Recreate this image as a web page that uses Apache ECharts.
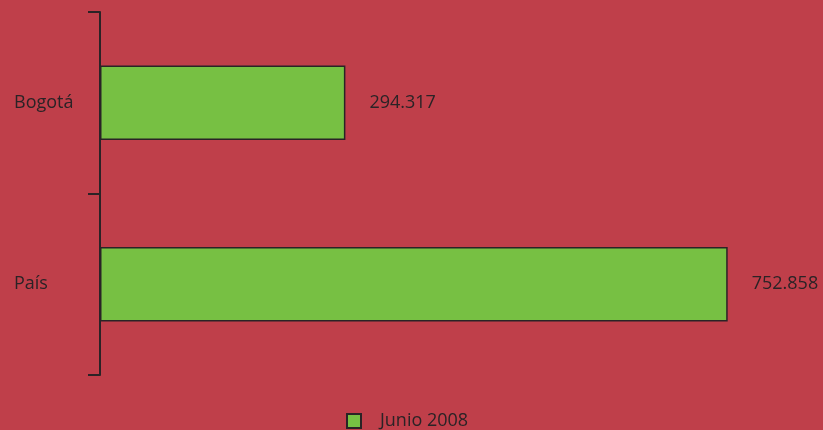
<!DOCTYPE html>
<html>
<head>
<meta charset="utf-8">
<script src="https://cdn.jsdelivr.net/npm/echarts@6/dist/echarts.min.js"></script>
<style>
  html, body { margin: 0; padding: 0; background: #bf3f4a; }
  #chart { width: 823px; height: 430px; }
</style>
</head>
<body>
<div id="chart"></div>
<script>
// categorias y valores
const categories = ['Bogotá', 'País'];
const values = [294317, 752858];
const seriesName = 'Junio 2008';

const chart = echarts.init(document.getElementById('chart'));

// separador de miles con punto
function fmt(v) {
  return String(v).replace(/\B(?=(\d{3})+(?!\d))/g, '.');
}

const option = {
  backgroundColor: '#bf3f4a',
  textStyle: { fontFamily: 'Open Sans' },
  grid: { left: 100, top: 12, width: 667, height: 363 },
  legend: {
    data: [seriesName],
    left: 346,
    top: 412,
    padding: 0,
    itemWidth: 14,
    itemHeight: 14,
    icon: 'rect',
    textStyle: { fontSize: 18, lineHeight: 16, color: '#2a2326', padding: [0, 0, 0, 14] }
  },
  xAxis: {
    type: 'value',
    min: 0,
    max: 800000,
    show: false
  },
  yAxis: {
    type: 'category',
    data: categories,
    inverse: true,
    axisLine: { show: true, lineStyle: { color: '#2a2326', width: 2 } },
    axisTick: { show: true, length: 12, lineStyle: { color: '#2a2326', width: 2 } },
    axisLabel: {
      align: 'left',
      margin: 86,
      fontSize: 18,
      color: '#2a2326'
    }
  },
  series: [
    {
      name: seriesName,
      type: 'bar',
      data: values,
      barCategoryGap: '59%',
      itemStyle: { color: '#77c043', borderColor: '#2a2326', borderWidth: 1.5 },
      label: {
        show: true,
        position: 'right',
        distance: 24,
        fontSize: 18,
        color: '#2a2326',
        formatter: p => fmt(p.value)
      }
    }
  ]
};

chart.setOption(option);
</script>
</body>
</html>
